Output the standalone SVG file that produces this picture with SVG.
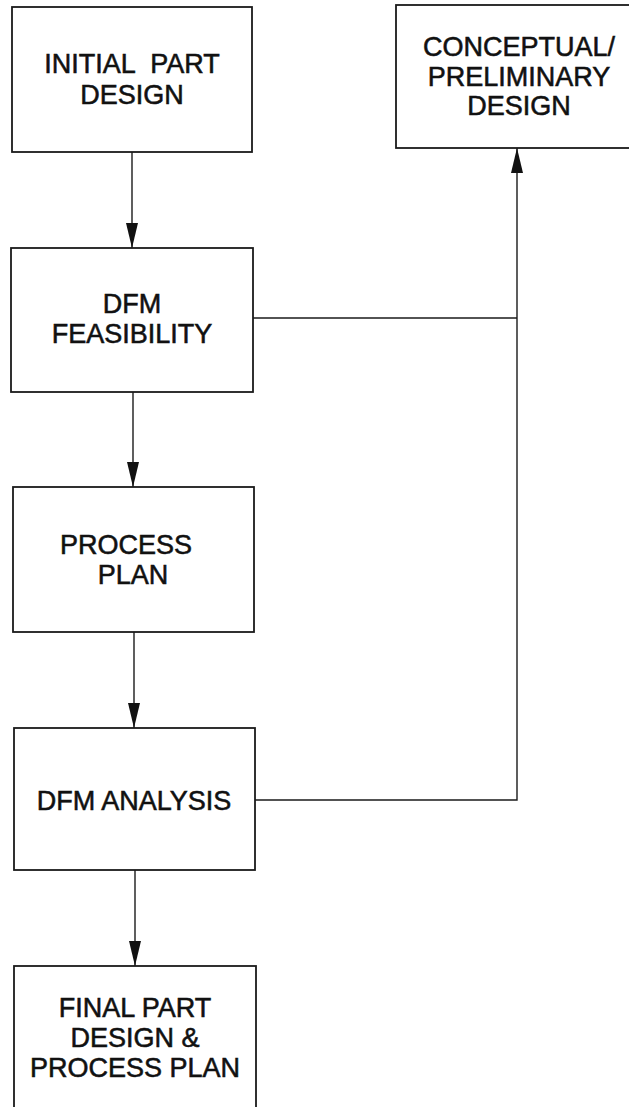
<svg xmlns="http://www.w3.org/2000/svg" width="629" height="1107" viewBox="0 0 629 1107">
  <style>
    .box { fill: #ffffff; stroke: #1a1a1a; stroke-width: 1.8; }
    .lbl { font-family: "Liberation Sans", Arial, sans-serif; font-size: 27px; fill: #111111; stroke: #111111; stroke-width: 0.55; text-anchor: middle; }
    .wire { fill: none; stroke: #1a1a1a; stroke-width: 1.4; }
  </style>
  <defs>
    <marker id="head" markerUnits="userSpaceOnUse" markerWidth="25" markerHeight="12" refX="25" refY="6" orient="auto">
      <path d="M0,0 L25,6 L0,12 Z" fill="#111111"/>
    </marker>
  </defs>
  <rect width="629" height="1107" fill="#ffffff"/>

  <g id="initial-part-design">
    <rect class="box" x="12" y="7" width="240" height="145"/>
    <text class="lbl" x="132" y="73" word-spacing="8">INITIAL PART</text>
    <text class="lbl" x="132" y="104">DESIGN</text>
  </g>

  <g id="conceptual-design">
    <rect class="box" x="396" y="5" width="250" height="143"/>
    <text class="lbl" x="519" y="56">CONCEPTUAL/</text>
    <text class="lbl" x="519" y="86">PRELIMINARY</text>
    <text class="lbl" x="519" y="115">DESIGN</text>
  </g>

  <g id="dfm-feasibility">
    <rect class="box" x="11" y="248" width="242" height="144"/>
    <text class="lbl" x="132" y="313">DFM</text>
    <text class="lbl" x="132" y="343">FEASIBILITY</text>
  </g>

  <g id="process-plan">
    <rect class="box" x="13" y="487" width="241" height="145"/>
    <text class="lbl" x="126" y="554">PROCESS</text>
    <text class="lbl" x="133" y="584">PLAN</text>
  </g>

  <g id="dfm-analysis">
    <rect class="box" x="14" y="728" width="241" height="142"/>
    <text class="lbl" x="134" y="810">DFM ANALYSIS</text>
  </g>

  <g id="final-part-design">
    <rect class="box" x="14" y="966" width="242" height="160"/>
    <text class="lbl" x="135" y="1017">FINAL PART</text>
    <text class="lbl" x="135" y="1047">DESIGN &amp;</text>
    <text class="lbl" x="135" y="1077">PROCESS PLAN</text>
  </g>

  <g id="connectors">
    <line class="wire" x1="132" y1="152" x2="132" y2="248" marker-end="url(#head)"/>
    <line class="wire" x1="133" y1="392" x2="133" y2="487" marker-end="url(#head)"/>
    <line class="wire" x1="134" y1="632" x2="134" y2="728" marker-end="url(#head)"/>
    <line class="wire" x1="135" y1="870" x2="135" y2="966" marker-end="url(#head)"/>
    <line class="wire" x1="253" y1="318" x2="517" y2="318"/>
    <polyline class="wire" points="255,800 517,800 517,148" marker-end="url(#head)"/>
  </g>
</svg>
